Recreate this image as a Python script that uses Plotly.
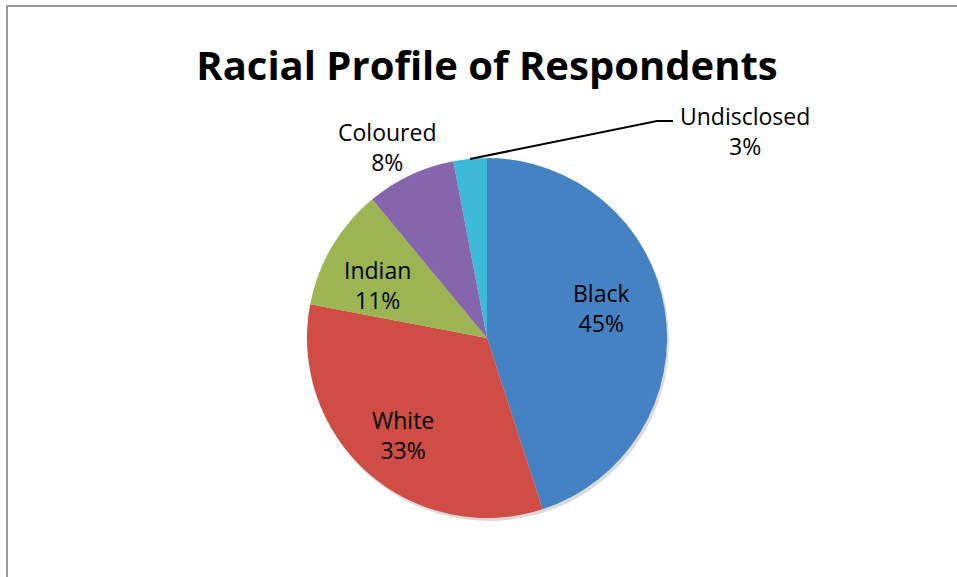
import plotly.graph_objects as go

# Survey data
groups = ["Black", "White", "Indian", "Coloured", "Undisclosed"]
shares = [45, 33, 11, 8, 3]
colors = ["#4482C4", "#CF4D45", "#9BB553", "#8765AC", "#3CBAD8"]

W, H = 957, 577
cx, cy, r = 487, 338, 180


def px(x):
    return x / W


def py(y):
    return 1 - y / H


fig = go.Figure()

# soft drop shadow under the pie
fig.add_trace(go.Pie(
    values=[1], marker=dict(colors=["rgba(0,0,0,0.14)"], line=dict(width=0)),
    domain=dict(x=[px(cx - r + 2), px(cx + r + 2)], y=[py(cy + r + 3), py(cy - r + 3)]),
    textinfo="none", hoverinfo="skip", showlegend=False, sort=False,
))

fig.add_trace(go.Pie(
    labels=groups, values=shares, sort=False, direction="clockwise", rotation=0,
    marker=dict(colors=colors, line=dict(width=0)),
    domain=dict(x=[px(cx - r), px(cx + r)], y=[py(cy + r), py(cy - r)]),
    textinfo="none", showlegend=False,
))

# label placement (pixel centres) for each slice
label_pos = {
    "Black": (601, 308),
    "White": (403, 435),
    "Indian": (377, 285),
    "Coloured": (387, 147),
    "Undisclosed": (745, 131),
}
font = dict(family="'Open Sans', Lato, sans-serif", size=23, color="#000000")
for g, v in zip(groups, shares):
    x, y = label_pos[g]
    fig.add_annotation(x=px(x), y=py(y), xref="paper", yref="paper",
                       text=f"{g}<br>{v}%", showarrow=False, font=font,
                       align="center", xanchor="center", yanchor="middle")

# leader line for the small slice
fig.add_shape(type="path", xref="paper", yref="paper",
              path=f"M {px(470)} {py(159)} L {px(657)} {py(121)} L {px(673)} {py(121)}",
              line=dict(color="#000000", width=2))

# chart frame
fig.add_shape(type="rect", xref="paper", yref="paper",
              x0=px(7), y0=py(580), x1=px(962), y1=py(6),
              line=dict(color="#9a9a9a", width=2), fillcolor="rgba(0,0,0,0)")

fig.update_layout(
    width=W, height=H,
    margin=dict(l=0, r=0, t=0, b=0),
    paper_bgcolor="white", plot_bgcolor="white",
    title=dict(text="<b>Racial Profile of Respondents</b>", x=px(487), y=py(66),
               xanchor="center", yanchor="middle",
               font=dict(family="'Open Sans', Lato, sans-serif", size=40, color="#000000")),
)

fig.write_html("out.html")
